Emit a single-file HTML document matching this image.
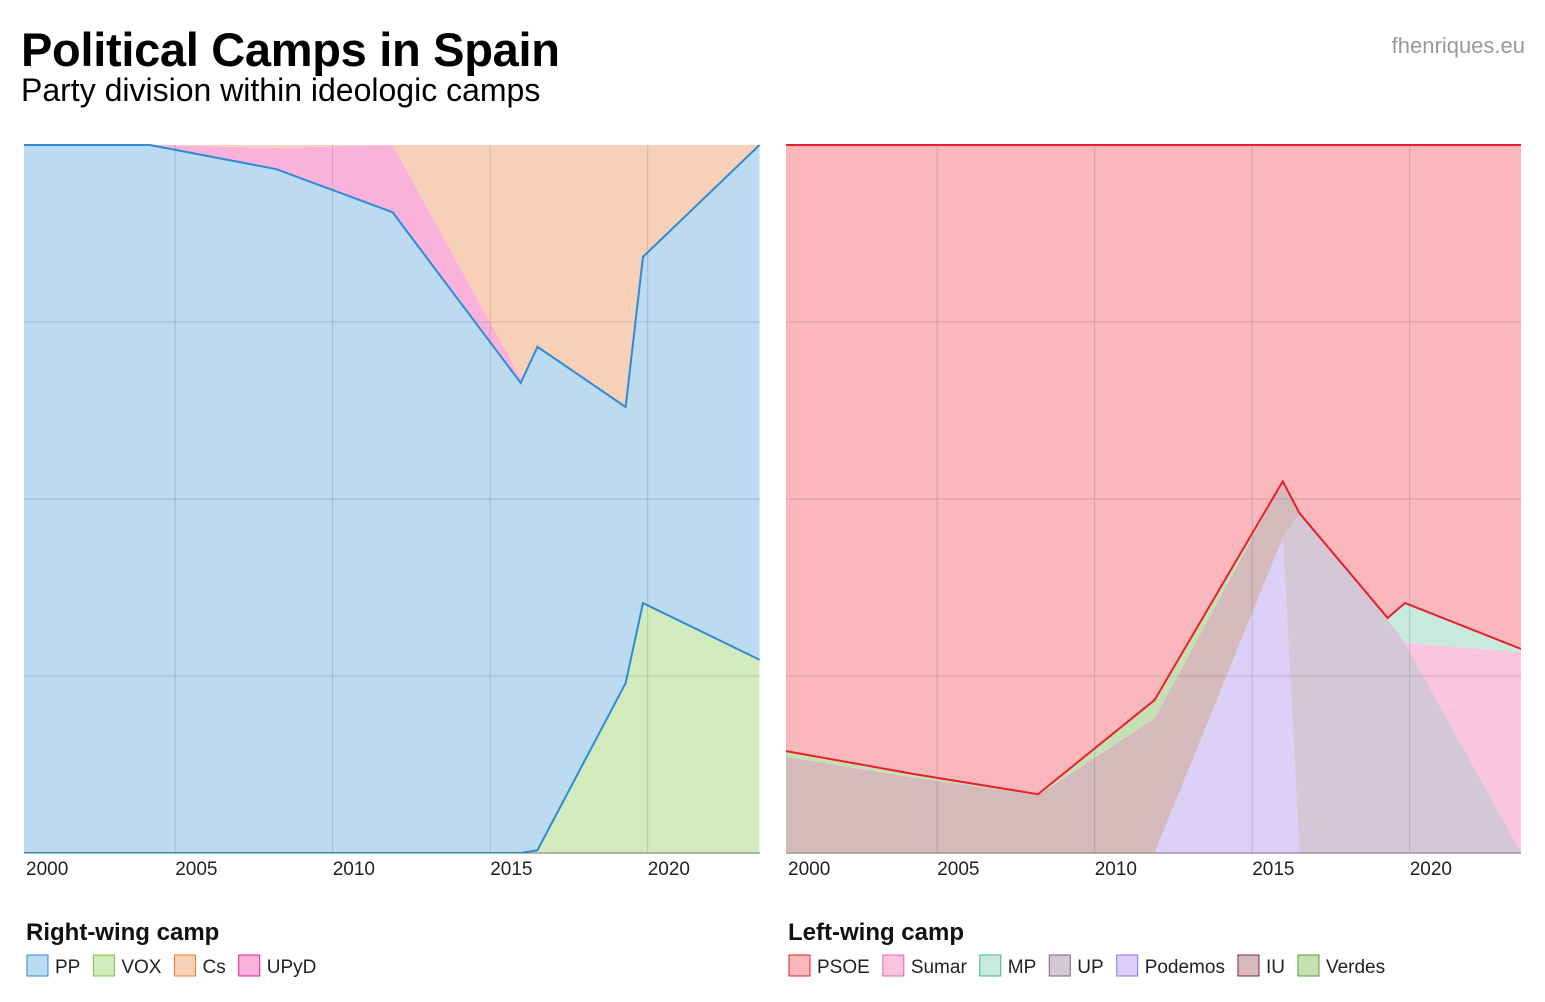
<!DOCTYPE html>
<html><head><meta charset="utf-8"><style>
body{margin:0;background:#fff;font-family:"Liberation Sans",sans-serif;}
#wrap{position:relative;width:1545px;height:1002px;overflow:hidden;}
.t{position:absolute;white-space:nowrap;}
</style></head><body>
<div id="wrap">
<div class="t" style="left:21px;top:22px;font-size:47px;font-weight:bold;letter-spacing:-0.3px">Political Camps in Spain</div>
<div class="t" style="left:21px;top:72px;font-size:32px;">Party division within ideologic camps</div>
<div class="t" style="right:20px;top:33px;font-size:22px;color:#999">fhenriques.eu</div>
<svg id="svg" width="1545" height="1002" style="position:absolute;left:0;top:0"></svg>
</div>
<script>
const years=[2000.2,2004.2,2008.2,2011.9,2015.97,2016.5,2019.3,2019.85,2023.55];
const tickYears=[2000,2005,2010,2015,2020];
// right-wing shares (%), stacked bottom→top
const rightParties=['VOX','PP','UPyD','Cs'];
const vox=[0,0,0,0,0,0.4,24,35.3,27.3];
const pp=[100,100,96.6,90.5,66.4,71.1,39,48.9,72.7];
const upyd=[0,0,3.0,9.5,0.7,0,0,0,0];
const cs=[0,0,0.4,0,32.9,28.5,37,15.8,0];
// left-wing shares (%), stacked bottom→top
const leftParties=['Podemos','UP','IU','Verdes','Sumar','MP','PSOE'];
const podemos=[0,0,0,0,44.5,0,0,0,0];
const up=[0,0,0,0,0,48,33,29.7,0];
const iu=[13.6,10.7,8.2,19,8,0,0,0,0];
const verdes=[0.8,0.5,0.1,2.6,0,0,0,0,0];
const sumar=[0,0,0,0,0,0,0,0,28.4];
const mp=[0,0,0,0,0,0,0.2,5.6,0.4];
const psoe=[85.6,88.8,91.7,78.4,47.5,52,66.8,64.7,71.2];

const NS='http://www.w3.org/2000/svg';
const svg=document.getElementById('svg');
function mk(tag,attrs,parent){const e=document.createElementNS(NS,tag);for(const k in attrs)e.setAttribute(k,attrs[k]);(parent||svg).appendChild(e);return e;}
const plotTop=145,plotBot=853,pxYear=31.5;
function drawChart(left,right,series,colors,lines,name){
  const x0=left-0.2*pxYear;
  const X=y=>x0+(y-2000)*pxYear;
  const Y=v=>plotBot-(v/100)*(plotBot-plotTop);
  const g=mk('g',{});
  
  
  const cid='clip'+left;
  const cp=mk('clipPath',{id:cid},g);mk('rect',{x:left,y:plotTop-2,width:right-left,height:plotBot-plotTop+2},cp);
  const ag=mk('g',{'clip-path':'url(#'+cid+')'},g);
  let cum=years.map(()=>0);
  const tops=[];
  series.forEach((s,i)=>{
    const lo=cum.slice();const hi=cum.map((c,j)=>c+s.v[j]);
    let d='M'+years.map((y,j)=>X(y)+','+Y(hi[j])).join('L');
    for(let j=years.length-1;j>=0;j--)d+='L'+X(years[j])+','+Y(lo[j]);
    const p=mk('path',{d:d+'Z',fill:colors[i]},ag);
    
    
    tops.push({lo:lo,hi:hi});cum=hi;
  });
  [25,50,75].forEach(v=>{const l=mk('line',{x1:left,x2:right,y1:Y(v),y2:Y(v),stroke:'rgba(90,90,110,0.25)','stroke-width':1},g);
    });
  tickYears.forEach(t=>{const x=X(t);
    if(x>left+3){const l=mk('line',{x1:x,x2:x,y1:plotTop,y2:plotBot,stroke:'rgba(90,90,110,0.25)','stroke-width':1},g);
      }
    const tx=mk('text',{x:Math.max(x,left+2),y:875,'font-size':19,fill:'#222','font-family':'Liberation Sans'},g);
    tx.textContent=t;
    
  });
  mk('line',{x1:left,x2:right,y1:plotBot,y2:plotBot,stroke:'#999','stroke-width':1.5},g);
  lines.forEach(L=>{const arr=L.which==='hi'?tops[L.idx].hi:tops[L.idx].lo;
    const pl=mk('polyline',{points:years.map((y,j)=>X(y)+','+Y(arr[j])).join(' '),fill:'none',stroke:L.c,'stroke-width':2,'clip-path':'url(#'+cid+')'},g);
    });
}
drawChart(24,760,[{n:'VOX',v:vox},{n:'PP',v:pp},{n:'UPyD',v:upyd},{n:'Cs',v:cs}],
  ['#d2ebbc','#bcdaf0','#f8b2dc','#f8d0b8'],
  [{idx:1,which:'hi',c:'#2e8bd6'},{idx:1,which:'lo',c:'#2e8bd6'}],'right-wing-chart');
drawChart(786,1521,[{n:'Podemos',v:podemos},{n:'UP',v:up},{n:'IU',v:iu},{n:'Verdes',v:verdes},{n:'Sumar',v:sumar},{n:'MP',v:mp},{n:'PSOE',v:psoe}],
  ['#dccff8','#d6c7d6','#d4baba','#c6e0b4','#f9c6de','#c6eadc','#fbb8bc'],
  [{idx:6,which:'lo',c:'#e8202c'},{idx:6,which:'hi',c:'#e8202c'}],'left-wing-chart');

function legend(x,title,items){
  const t=mk('text',{x:x,y:940,'font-size':24,'font-weight':'bold',fill:'#111','font-family':'Liberation Sans'});
  t.textContent=title;
  let cx=x;
  items.forEach(it=>{
    const g=mk('g',{});
    
    
    mk('rect',{x:cx+1,y:955,width:21,height:21,fill:it[1],stroke:it[2],'stroke-width':1},g);
    const tx=mk('text',{x:cx+29,y:973,'font-size':19,fill:'#222','font-family':'Liberation Sans'},g);
    tx.textContent=it[0];
    cx+=29+tx.getComputedTextLength()+12;
  });
}
legend(26,'Right-wing camp',[['PP','#bcdaf0','#2e8bd6'],['VOX','#d2ebbc','#7cc040'],['Cs','#f8d0b8','#f07a30'],['UPyD','#f8b2dc','#e0208c']]);
legend(788,'Left-wing camp',[['PSOE','#fbb8bc','#e8202c'],['Sumar','#f9c6de','#f060a8'],['MP','#c6eadc','#40b888'],['UP','#d6c7d6','#806080'],['Podemos','#dccff8','#9070f0'],['IU','#d4baba','#902030'],['Verdes','#c6e0b4','#50a030']]);
</script>
</body></html>
